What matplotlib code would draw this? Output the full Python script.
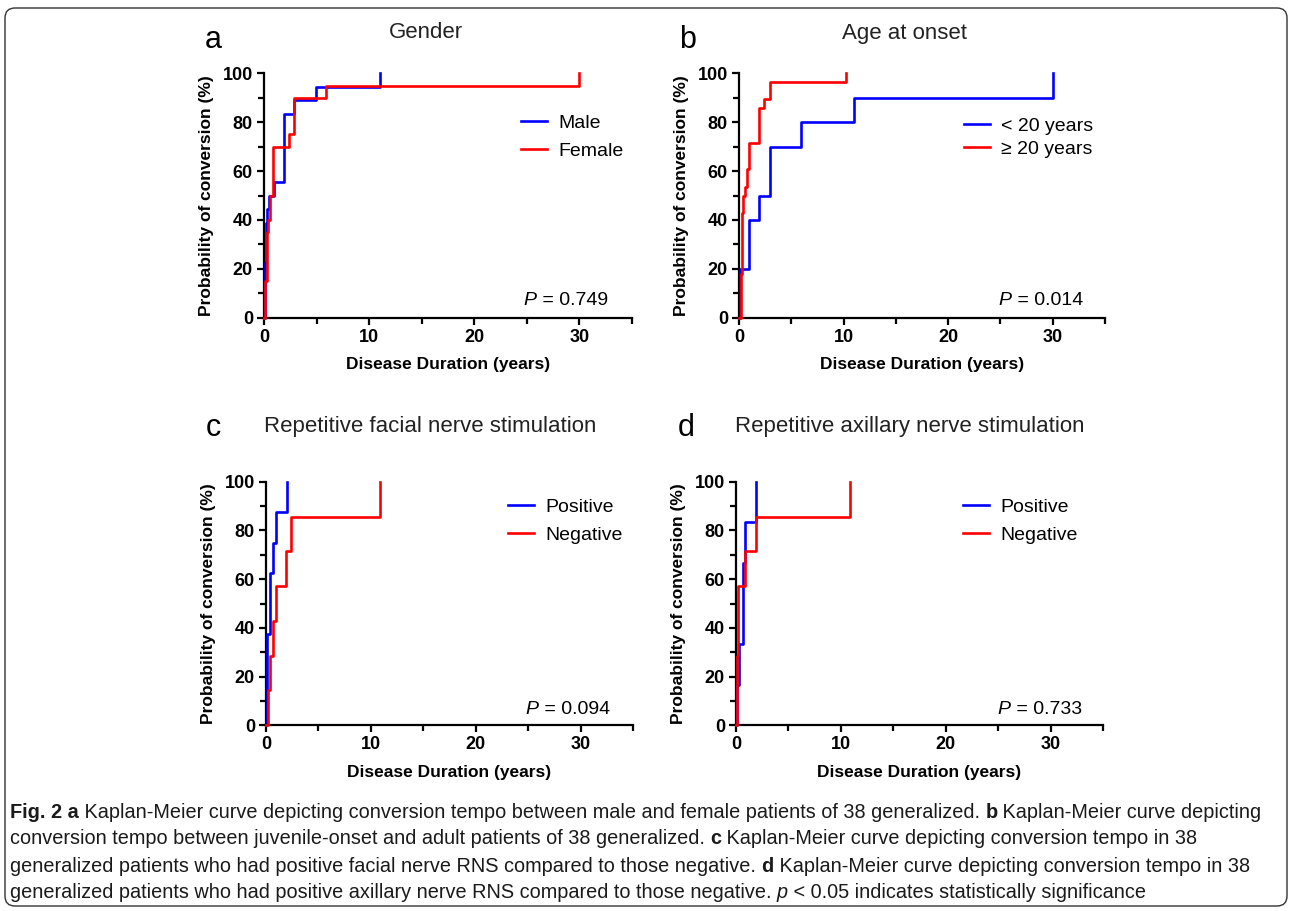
import matplotlib
matplotlib.use("Agg")
import matplotlib.pyplot as plt
from matplotlib.patches import FancyBboxPatch
from matplotlib.transforms import IdentityTransform
from matplotlib.ticker import MultipleLocator

W, H = 1292, 911

# ---- data (time in years, cumulative % converted) ----
# a: gender
male_t = [0, 0.06, 0.16, 0.29, 0.5, 0.96, 1.9, 2.9, 4.9, 11.0]
male_p = [0, 22.2, 38.9, 44.4, 50.0, 55.6, 83.3, 88.9, 94.4, 100]
female_t = [0, 0.1, 0.26, 0.38, 0.6, 0.9, 2.37, 2.9, 5.9, 30]
female_p = [0, 15, 35, 40, 50, 70, 75, 90, 95, 100]

# b: age at onset
young_t = [0, 0.1, 1.0, 1.96, 3.0, 5.9, 11.0, 30]
young_p = [0, 20, 40, 50, 70, 80, 90, 100]
adult_t = [0, 0.2, 0.25, 0.4, 0.6, 0.75, 0.93, 1.96, 2.4, 3.0, 10.2]
adult_p = [0, 17.9, 42.9, 50.0, 53.6, 60.7, 71.4, 85.7, 89.3, 96.4, 100]

# c: facial RNS
fpos_t = [0, 0.06, 0.13, 0.35, 0.66, 0.95, 2.0]
fpos_p = [0, 12.5, 37.5, 62.5, 75.0, 87.5, 100]
fneg_t = [0, 0.16, 0.35, 0.67, 0.98, 1.87, 2.38, 10.9]
fneg_p = [0, 14.3, 28.6, 42.9, 57.1, 71.4, 85.7, 100]

# d: axillary RNS
apos_t = [0, 0.1, 0.3, 0.67, 0.9, 1.92]
apos_p = [0, 16.7, 33.3, 66.7, 83.3, 100]
aneg_t = [0, 0.12, 0.18, 0.9, 1.92, 10.9]
aneg_p = [0, 28.6, 57.1, 71.4, 85.7, 100]

letters = ["a", "b", "c", "d"]
titles = ["Gender", "Age at onset", "Repetitive facial nerve stimulation",
          "Repetitive axillary nerve stimulation"]
legend_labels = [["Male", "Female"], ["< 20 years", "\u2265 20 years"],
                 ["Positive", "Negative"], ["Positive", "Negative"]]
pvals = ["0.749", "0.014", "0.094", "0.733"]
curves = [(male_t, male_p, female_t, female_p),
          (young_t, young_p, adult_t, adult_p),
          (fpos_t, fpos_p, fneg_t, fneg_p),
          (apos_t, apos_p, aneg_t, aneg_p)]

plt.rcParams['font.family'] = ['Liberation Sans', 'DejaVu Sans']


def rect(l, t, r, b):
    return [l / W, 1 - b / H, (r - l) / W, (b - t) / H]


# pixel boxes of the four plot areas
boxes = [(264, 73.3, 632, 317.7), (739, 73.3, 1105, 317.7),
         (266, 481.7, 633, 725.3), (736, 481.7, 1103, 725.3)]
letter_xy = [(213, 40), (688, 40), (213, 428), (686, 428)]
title_xy = [(426, 33), (904, 33), (430, 426), (910, 426)]
legend_xy = [(521, 114), (964, 117), (508, 498), (963, 498)]
legend_sp = [0.55, 0.3, 0.55, 0.55]
p_xy = [(608, 300), (1083, 300), (610, 709), (1082, 709)]

fig = plt.figure(figsize=(W / 100, H / 100), dpi=100)

for i in range(4):
    ax = fig.add_axes(rect(*boxes[i]))
    t1, p1, t2, p2 = curves[i]
    ax.step(t1, p1, where='post', color='#0000ff', lw=1.9, clip_on=False,
            label=legend_labels[i][0], zorder=3)
    ax.step(t2, p2, where='post', color='#ff0000', lw=1.9, clip_on=False,
            label=legend_labels[i][1], zorder=4)
    ax.set_xlim(0, 35)
    ax.set_ylim(0, 100)
    ax.xaxis.set_major_locator(MultipleLocator(10))
    ax.xaxis.set_minor_locator(MultipleLocator(5))
    ax.yaxis.set_major_locator(MultipleLocator(20))
    ax.yaxis.set_minor_locator(MultipleLocator(10))
    for s in ['top', 'right']:
        ax.spines[s].set_visible(False)
    for s in ['left', 'bottom']:
        ax.spines[s].set_linewidth(1.6)
    ax.tick_params(which='major', length=5, width=1.6, labelsize=13, pad=3)
    ax.tick_params(which='minor', length=4, width=1.6)
    for lab in ax.get_xticklabels() + ax.get_yticklabels():
        lab.set_fontweight('bold')
    ax.set_xlabel("Disease Duration (years)", fontsize=12.5, fontweight='bold', labelpad=8)
    ax.set_ylabel("Probability of conversion (%)", fontsize=12.5, fontweight='bold', labelpad=6)

    ax.legend(loc='upper left', bbox_to_anchor=(legend_xy[i][0] / W, 1 - legend_xy[i][1] / H),
              bbox_transform=fig.transFigure, frameon=False, fontsize=14,
              handlelength=1.35, handletextpad=0.55, labelspacing=legend_sp[i],
              borderaxespad=0, borderpad=0)

    fig.text(letter_xy[i][0] / W, 1 - letter_xy[i][1] / H, letters[i], fontsize=22,
             ha='center', va='center')
    fig.text(title_xy[i][0] / W, 1 - title_xy[i][1] / H, titles[i], fontsize=16,
             ha='center', va='center', color='#222222')
    pv = fig.text(p_xy[i][0] / W, 1 - p_xy[i][1] / H, " = " + pvals[i], fontsize=14,
                  ha='right', va='center')
    ax.annotate("P", xy=(0, 0), xycoords=pv, fontsize=14, fontstyle='italic',
                ha='right', va='bottom', annotation_clip=False)

# caption, built piece by piece so the bold/italic parts line up
cap_ax = fig.add_axes([0, 0, 1, 1])
cap_ax.axis('off')
cap_lines = [
    [("Fig. 2 a", 'bold', 'normal'),
     (" Kaplan-Meier curve depicting conversion tempo between male and female patients of 38 generalized. ", 'normal', 'normal'),
     ("b", 'bold', 'normal'), (" Kaplan-Meier curve depicting", 'normal', 'normal')],
    [("conversion tempo between juvenile-onset and adult patients of 38 generalized. ", 'normal', 'normal'),
     ("c", 'bold', 'normal'), (" Kaplan-Meier curve depicting conversion tempo in 38", 'normal', 'normal')],
    [("generalized patients who had positive facial nerve RNS compared to those negative. ", 'normal', 'normal'),
     ("d", 'bold', 'normal'), (" Kaplan-Meier curve depicting conversion tempo in 38", 'normal', 'normal')],
    [("generalized patients who had positive axillary nerve RNS compared to those negative. ", 'normal', 'normal'),
     ("p", 'normal', 'italic'), (" < 0.05 indicates statistically significance", 'normal', 'normal')],
]
cap_y = [812, 839, 866, 893]
cap_fs = 14.3
for line, yy in zip(cap_lines, cap_y):
    prev = None
    for txt, wt, st in line:
        if prev is None:
            prev = cap_ax.text(10 / W, 1 - yy / H, txt, fontsize=cap_fs, fontweight=wt,
                               fontstyle=st, ha='left', va='center', color='#1a1a1a')
        else:
            prev = cap_ax.annotate(txt, xy=(1, 0), xycoords=prev, fontsize=cap_fs,
                                   fontweight=wt, fontstyle=st, ha='left', va='bottom',
                                   color='#1a1a1a')

frame = FancyBboxPatch((5, 5), 1282, 898, boxstyle="round,pad=0,rounding_size=10",
                       transform=IdentityTransform(), fill=False, edgecolor='#333333',
                       linewidth=1.0)
fig.add_artist(frame)

fig.savefig("out.png", dpi=100)
